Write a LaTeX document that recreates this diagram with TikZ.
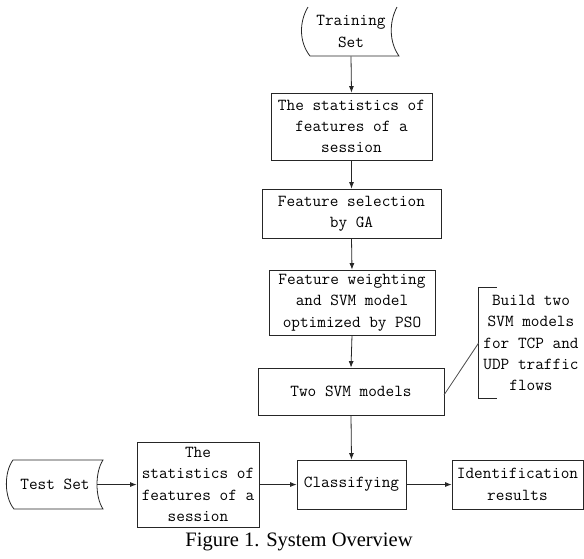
\documentclass[tikz,border=0pt]{standalone}
\usepackage{fontspec}
\setmainfont{Liberation Serif}
\usetikzlibrary{arrows.meta}
\tikzset{
        % boxes of the chart, text in a typewriter face
        box/.style={draw=black!85, line width=0.8pt, inner sep=0pt, align=center,
            font=\ttfamily\fontsize{16.8}{21.3}\selectfont},
        % arrows between the boxes
        flow/.style={draw=black!85, line width=0.8pt, -{Latex[length=6.5pt,width=5pt]}},
        edge line/.style={draw=black!85, line width=0.8pt}
    }

\begin{document}
\begin{tikzpicture}[x=1pt,y=1pt,yscale=-1]
\useasboundingbox (0,0) rectangle (584,558);

%Shape: Stored Data (top edge open)
\draw [edge line] (308,7) .. controls (299,22) and (299,42) .. (310,56) -- (399,56) .. controls (389,42) and (389,22) .. (397,7) ;
%Shape: Stored Data
\draw [edge line] (13,460) -- (103,460) .. controls (95,472) and (95,497) .. (103,509) -- (14,509) .. controls (4,497) and (4,472) .. (13,460) -- cycle ;

% Text Node
\node [box, draw=none, minimum width=97, minimum height=49] (train) at (351,31.5) {Training\\Set};
% Text Node
\node [box, draw=none, minimum width=84, minimum height=49] (test) at (55,484.5) {Test Set};

%Shape: Rectangle
\node [box, minimum width=161, minimum height=67] (stat) at (351.5,126.5) {The statistics of\\features of a\\session};
%Shape: Rectangle
\node [box, minimum width=179, minimum height=49] (select) at (351.5,213.5) {Feature selection\\by GA};
%Shape: Rectangle
\node [box, minimum width=166, minimum height=65] (pso) at (352,302.5) {Feature weighting\\and SVM model\\optimized by PSO};
%Shape: Rectangle
\node [box, minimum width=186, minimum height=47] (svm) at (351,391.5) {Two SVM models};
%Shape: Rectangle
\node [box, minimum width=122, minimum height=85] (teststat) at (198,484.5) {The\\statistics of\\features of a\\session};
%Shape: Rectangle
\node [box, minimum width=109, minimum height=49] (classify) at (351.5,484.5) {Classifying};
%Shape: Rectangle
\node [box, minimum width=131, minimum height=49] (result) at (517.5,484.5) {Identification\\results};

% Text Node
\node [box, draw=none, minimum width=104, minimum height=110] (note) at (531,343) {Build two\\SVM models\\for TCP and\\UDP traffic\\flows};
%Straight Lines
\draw [edge line] (note.north west) ++(18,0) -- (note.north west) -- (note.south west) -- ++(18,0) ;
\coordinate (callout) at (444,395);
%Straight Lines
\draw [edge line, black!70] (callout) -- (note.west) ;

%Straight Lines
\draw [flow] (train.south) -- (stat.north) ;
\draw [flow] (stat.south) -- (select.north) ;
\draw [flow] (select.south) -- (pso.north) ;
\draw [flow] (pso.south) -- (svm.north) ;
\draw [flow] (svm.south) -- (classify.north) ;
\draw [flow] (test.east) -- (teststat.west) ;
\draw [flow] (teststat.east) -- (classify.west) ;
\draw [flow] (classify.east) -- (result.west) ;

% Text Node
\node [font=\fontsize{20.5}{24}\selectfont] (caption) at (299,542) {Figure 1. System Overview};

\end{tikzpicture}
\end{document}
